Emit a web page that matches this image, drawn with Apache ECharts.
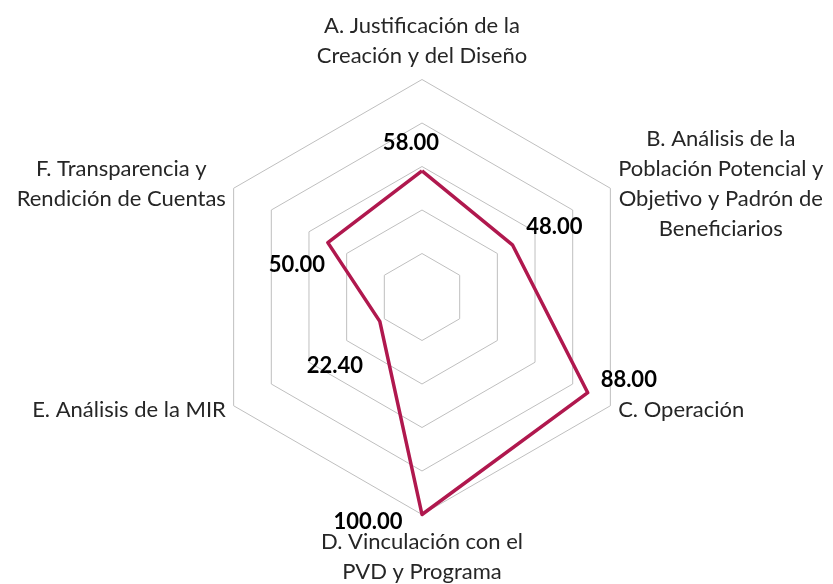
<!DOCTYPE html>
<html>
<head>
<meta charset="utf-8">
<script src="https://cdn.jsdelivr.net/npm/echarts@6/dist/echarts.min.js"></script>
<style>html,body{margin:0;padding:0;background:#fff;}#c{width:833px;height:584px;}</style>
</head>
<body>
<div id="c"></div>
<script>
// Categories listed clockwise from the top, as in the reference
const categories = [
  'A. Justificación de la\nCreación y del Diseño',
  'B. Análisis de la\nPoblación Potencial y\nObjetivo y Padrón de\nBeneficiarios',
  'C. Operación',
  'D. Vinculación con el\nPVD y Programa',
  'E. Análisis de la MIR',
  'F. Transparencia y\nRendición de Cuentas'
];
const values = [58.00, 48.00, 88.00, 100.00, 22.40, 50.00];
const axisMax = 100;

// label offsets (style only) per category, in the same order
const labelOffsets = [[-11,-28],[42,-18],[41,-13],[-54,7],[-45,45],[-31,22]];

// ECharts radar goes counter-clockwise; reorder to draw clockwise
const order = [0,5,4,3,2,1];
const ordCats = order.map(i => categories[i]);
const ordVals = order.map(i => values[i]);

const chart = echarts.init(document.getElementById('c'));
const labelItems = order.map((catIdx, k) => ({
  value: ordVals,
  symbol: 'circle',
  symbolSize: 2,
  itemStyle: {color: 'rgba(0,0,0,0)', borderWidth: 0},
  lineStyle: {opacity: 0, width: 0},
  label: {
    show: true,
    position: 'inside',
    offset: labelOffsets[catIdx],
    fontFamily: 'Lato',
    fontWeight: 'bold',
    fontSize: 22,
    color: '#000',
    formatter: p => (p.dimensionIndex === k ? Number(p.value).toFixed(2) : '')
  }
}));

chart.setOption({
  animation: false,
  radar: {
    center: [422, 297],
    radius: 217.5,
    startAngle: 90,
    shape: 'polygon',
    splitNumber: 5,
    indicator: ordCats.map(n => ({name: n, min: 0, max: axisMax})),
    axisName: {
      color: '#262626',
      fontFamily: 'Lato',
      fontSize: 22,
      formatter: name => {
        const body = name.split('\n').map(l => '{c|' + l + '}').join('\n');
        return name === categories[3] ? '{s|}\n' + body : body;
      },
      rich: {
        c: {align: 'center', fontFamily: 'Lato', fontSize: 22, lineHeight: 30, color: '#262626'},
        s: {fontSize: 3, lineHeight: 3, height: 3}
      }
    },
    nameGap: 9,
    axisLine: {show: false},
    axisTick: {show: false},
    axisLabel: {show: false},
    splitArea: {show: false},
    splitLine: {lineStyle: {color: '#BFBFBF', width: 1}}
  },
  series: [
    {
      type: 'radar',
      silent: true,
      symbol: 'none',
      data: [{value: ordVals}],
      lineStyle: {color: '#B0184E', width: 3.5}
    },
    {
      type: 'radar',
      silent: true,
      data: labelItems
    }
  ]
});
</script>
</body>
</html>
